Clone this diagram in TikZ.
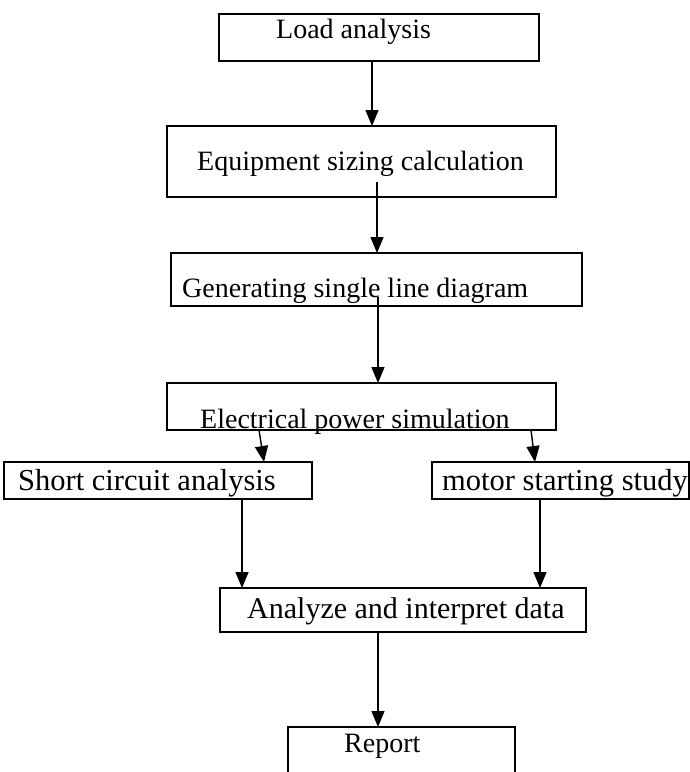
\documentclass[tikz,border=0pt]{standalone}
\usepackage{fontspec}
\setmainfont{Liberation Serif}
\usetikzlibrary{arrows.meta}
\begin{document}
\begin{tikzpicture}[x=1pt,y=-1pt,
  box/.style={draw, line width=1.8pt, rectangle, inner sep=0pt, outer sep=0pt},
  lbl/.style={anchor=base west, inner sep=0pt, font=\fontsize{28}{32}\selectfont},
  lblb/.style={anchor=base west, inner sep=0pt, font=\fontsize{30.5}{34}\selectfont},
  lblc/.style={anchor=base west, inner sep=0pt, font=\fontsize{30}{34}\selectfont},
  arr/.style={-{Triangle[width=13pt,length=16pt]}, line width=1.4pt}]
\useasboundingbox (0,0) rectangle (690,772);
% boxes
\node[box, minimum width=320pt, minimum height=47pt] (b1) at (379,37.5) {};
\node[box, minimum width=389pt, minimum height=71pt] (b2) at (361.5,161.5) {};
\node[box, minimum width=411pt, minimum height=53pt] (b3) at (376.5,279.5) {};
\node[box, minimum width=389pt, minimum height=47pt] (b4) at (361.5,406.5) {};
\node[box, minimum width=308pt, minimum height=37pt] (b5) at (158,480.5) {};
\node[box, minimum width=257pt, minimum height=37pt] (b6) at (560.5,480.5) {};
\node[box, minimum width=366pt, minimum height=44pt] (b7) at (403,610) {};
\node[box, minimum width=227pt, minimum height=66pt] (b8) at (401.5,760) {};
% texts
\node[lbl] (t1) at (276,38) {Load analysis};
\node[lbl] (t2) at (197,170) {Equipment sizing calculation};
\node[lbl] (t3) at (182,297) {Generating single line diagram};
\node[lbl] (t4) at (200,428) {Electrical power simulation};
\node[lblb] (t5) at (18,490) {Short circuit analysis};
\node[lblb] (t6) at (442,490) {motor starting study};
\node[lblc] (t7) at (247,618) {Analyze and interpret data};
\node[lbl] (t8) at (344,752) {Report};
% arrows
\draw[arr] ([xshift=153pt]b1.south west) -- ([xshift=205pt]b2.north west);
\draw[arr] ([xshift=210pt,yshift=15pt]b2.south west) -- ([xshift=206pt]b3.north west);
\draw[arr] ([xshift=207pt,yshift=9pt]b3.south west) -- ([xshift=211pt]b4.north west);
\draw[arr] ([xshift=92pt]b4.south west) -- ([xshift=260pt]b5.north west);
\draw[arr] ([xshift=364pt]b4.south west) -- ([xshift=103pt]b6.north west);
\draw[arr] ([xshift=238pt]b5.south west) -- ([xshift=22pt]b7.north west);
\draw[arr] ([xshift=108pt]b6.south west) -- ([xshift=320pt]b7.north west);
\draw[arr] ([xshift=158pt]b7.south west) -- ([xshift=90pt]b8.north west);
\end{tikzpicture}
\end{document}
